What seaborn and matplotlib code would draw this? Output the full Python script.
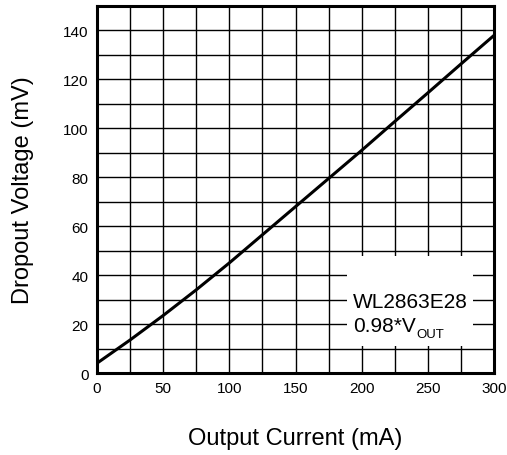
import matplotlib
matplotlib.use("Agg")
import matplotlib.pyplot as plt
from matplotlib.patches import Rectangle
from matplotlib.ticker import MultipleLocator
import pandas as pd
import seaborn as sns

# Dropout voltage vs. output current, WL2863E28 at 0.98*VOUT
current_ma = [0, 25, 50, 75, 100, 125, 150, 175, 200, 225, 250, 275, 300]
dropout_mv = [4, 13.5, 23.5, 34, 45, 56.5, 68, 79.5, 91, 102.8, 114.5, 126.3, 138]

x_ticks = [0, 50, 100, 150, 200, 250, 300]
y_ticks = [0, 20, 40, 60, 80, 100, 120, 140]

sns.set_theme(style="white")
plt.rcParams["font.family"] = ["Liberation Sans", "DejaVu Sans"]

df = pd.DataFrame({"current": current_ma, "dropout": dropout_mv})

fig = plt.figure(figsize=(5.07, 4.56), dpi=100)
ax = fig.add_axes([0.1913, 0.1798, 0.7831, 0.8048])

sns.lineplot(data=df, x="current", y="dropout", ax=ax, color="black",
             linewidth=2.2, zorder=3)

ax.set_xlim(0, 300)
ax.set_ylim(0, 150)
ax.set_xticks(x_ticks)
ax.set_yticks(y_ticks)
ax.xaxis.set_minor_locator(MultipleLocator(25))
ax.yaxis.set_minor_locator(MultipleLocator(10))
ax.grid(which="both", color="black", linewidth=1.0, zorder=0.5)
ax.set_axisbelow(True)
ax.tick_params(which="both", length=0, labelsize=11, colors="black", pad=6)

for s in ax.spines.values():
    s.set_visible(True)
    s.set_color("black")
    s.set_linewidth(2.2)
    s.set_zorder(4)

ax.set_xlabel("Output Current (mA)", fontsize=17, color="black", labelpad=23)
ax.set_ylabel("Dropout Voltage (mV)", fontsize=17, color="black", labelpad=21)

# label box over the grid
ax.add_patch(Rectangle((189, 11), 95, 37, facecolor="white", edgecolor="none",
                       zorder=1))
ax.text(193.5, 29.4, "WL2863E28", fontsize=15, va="center", ha="left",
        color="black", zorder=2)
t = ax.text(193.5, 19.5, "0.98*V", fontsize=15, va="center", ha="left",
            color="black", zorder=2)
ax.annotate("OUT", xy=(1, 0), xycoords=t, xytext=(0.5, -3.5),
            textcoords="offset points", fontsize=9.5, va="bottom", ha="left",
            color="black", zorder=2)

fig.savefig("out.png", dpi=100)
